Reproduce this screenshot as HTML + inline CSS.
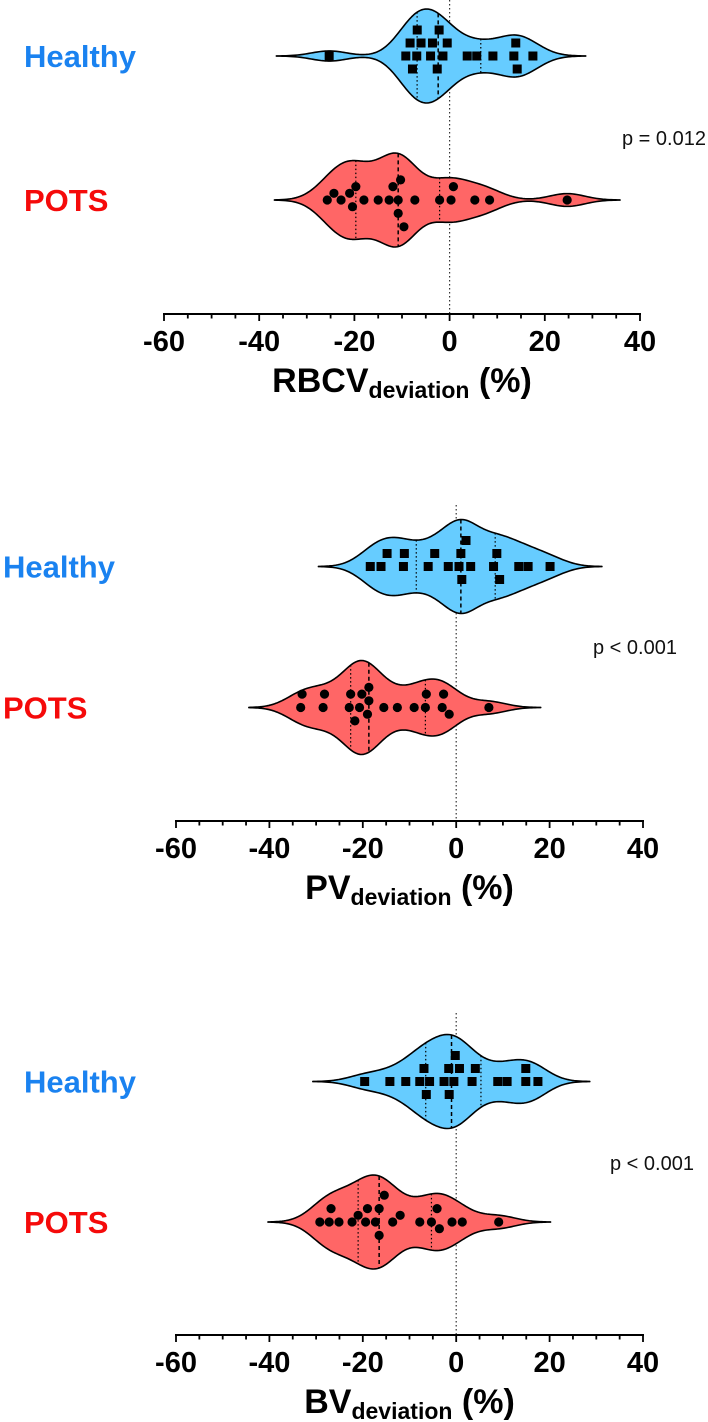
<!DOCTYPE html>
<html><head><meta charset="utf-8">
<style>
html,body{margin:0;padding:0;background:#fff;}
svg{display:block;}
text{font-family:"Liberation Sans",Arial,sans-serif;}
</style></head>
<body>
<svg id="chart" width="708" height="1422" viewBox="0 0 708 1422" xmlns="http://www.w3.org/2000/svg"></svg>
<script>
// ---- data (values in % deviation) ----
const rbcvHealthy = [-8.3,-6.8,-2.2,14.2,-25.3,-9.2,-6.9,-3.6,-1.4,3.7,5.7,9.1,13.5,17.5,-6.0,-4.0,-2.6,-0.5,13.9,-7.8];
const rbcvPots = [-9.6,-24.3,-21.0,-11.9,-10.3,0.3,-25.7,-18.0,-15.0,-7.3,-2.1,5.3,8.4,24.7,-22.8,-20.4,-12.7,-10.8,0.8,-19.7,-10.8];
const pvHealthy = [-14.8,1.2,9.3,-11.3,-18.4,-16.1,-6.0,-1.7,1.0,3.1,8.0,13.4,15.4,20.1,-11.1,-4.6,0.6,2.1,8.7];
const pvPots = [-22.6,-20.7,-18.7,-2.7,-33.0,-28.2,-6.4,-21.7,-20.2,-18.7,-15.5,-12.6,-9.0,7.0,-33.3,-28.5,-6.6,-22.9,-19.0,-3.0,-1.5];
const bvHealthy = [-6.4,-0.2,4.1,14.9,-19.6,-14.2,-10.8,-7.8,-5.7,-2.6,-1.5,-0.5,8.9,10.9,17.5,3.4,14.9,-6.9,-1.6,0.7];
const bvPots = [-21.0,-16.5,-4.1,-27.2,-19.0,-29.2,-25.1,-22.3,-17.3,-15.4,-13.6,-12.0,-7.8,-5.3,-3.6,-0.9,1.3,9.1,-26.8,-19.4,-16.5];
const tickLabels = [-60,-40,-20,0,20,40];
const pLabels = ["p = 0.012","p < 0.001","p < 0.001"];
const titleMain = ["RBCV","PV","BV"];

const panels = [
  {healthy:rbcvHealthy,pots:rbcvPots,axisY:314,xL:164,xR:640,hC:56,pC:200,labX:24,pX:622,pY:145,refTop:0,name:'rbcv'},
  {healthy:pvHealthy,pots:pvPots,axisY:821,xL:176,xR:643,hC:566.5,pC:707.5,labX:3,pX:593,pY:654,refTop:505,name:'pv'},
  {healthy:bvHealthy,pots:bvPots,axisY:1335,xL:176,xR:643,hC:1081.5,pC:1222,labX:24,pX:610,pY:1170,refTop:1013,name:'bv'}
];
const NS='http://www.w3.org/2000/svg';
const svg=document.getElementById('chart');
function mk(tag,attrs,parent){const e=document.createElementNS(NS,tag);for(const k in attrs)e.setAttribute(k,attrs[k]);(parent||svg).appendChild(e);return e;}
function quantile(arr,q){const s=[...arr].sort((a,b)=>a-b);const pos=(s.length-1)*q;const lo=Math.floor(pos),hi=Math.ceil(pos);return s[lo]+(s[hi]-s[lo])*(pos-lo);}
const H=3.7;
function kde(arr,x){let s=0;for(const v of arr){const z=(x-v)/H;s+=Math.exp(-0.5*z*z);}return s;}

panels.forEach((p,pi)=>{
  const g=mk('g',{});
  
  
  const xs=v=>p.xL+(v+60)/100*(p.xR-p.xL);
  const ref=mk('line',{x1:xs(0),x2:xs(0),y1:p.refTop,y2:p.axisY,stroke:'#333','stroke-width':1.2,'stroke-dasharray':'1.5,2.5'},g);
  
  
  const groups=[{vals:p.healthy,c:p.hC,fill:'#66ccff',shape:'square',nm:'healthy'},{vals:p.pots,c:p.pC,fill:'#ff6666',shape:'circle',nm:'pots'}];
  groups.forEach(gr=>{
    const mn=Math.min(...gr.vals)-3*H,mx=Math.max(...gr.vals)+3*H;
    const N=160;let pts=[];let maxd=0;
    for(let i=0;i<=N;i++){const v=mn+(mx-mn)*i/N;const d=kde(gr.vals,v);pts.push([v,d]);if(d>maxd)maxd=d;}
    const W=47;
    const wAt=v=>kde(gr.vals,v)/maxd*W;
    let dstr='M'+pts.map(q=>xs(q[0]).toFixed(2)+','+(gr.c-q[1]/maxd*W).toFixed(2)).join(' L');
    dstr+=' L'+pts.slice().reverse().map(q=>xs(q[0]).toFixed(2)+','+(gr.c+q[1]/maxd*W).toFixed(2)).join(' L')+' Z';
    const vio=mk('path',{d:dstr,fill:gr.fill,stroke:'#000','stroke-width':1.6,'stroke-linejoin':'round'},g);
    
    
    [[0.25,'1.5,2.5'],[0.5,'4,3'],[0.75,'1.5,2.5']].forEach(([q,da])=>{
      const v=quantile(gr.vals,q);const w=wAt(v);
      const ln=mk('line',{x1:xs(v),x2:xs(v),y1:gr.c-w,y2:gr.c+w,stroke:'#000','stroke-width':q===0.5?1.5:1.2,'stroke-dasharray':da},g);
      
      
    });
    const sorted=[...gr.vals].sort((a,b)=>a-b);
    const placed=[];const D=9;const step=gr.shape==='square'?13:6.7;
    sorted.forEach(v=>{
      const px=xs(v);let oy=0;
      for(let k=0;k<40;k++){
        const cand=k===0?0:(k%2?-1:1)*Math.ceil(k/2)*step;
        const ok=placed.every(q=>{
          const dx=q[0]-px,dy=q[1]-cand;
          return gr.shape==='square'?(Math.abs(dx)>=D||Math.abs(dy)>=D):(dx*dx+dy*dy>=D*D);
        });
        if(ok){oy=cand;break;}
      }
      placed.push([px,oy]);
      let m;
      if(gr.shape==='square'){m=mk('rect',{x:px-4.5,y:gr.c+oy-4.5,width:9,height:9,fill:'#000'},g);}
      else{m=mk('circle',{cx:px,cy:gr.c+oy,r:4.6,fill:'#000'},g);}
      
      
    });
  });
  const ax=mk('line',{x1:p.xL-1,x2:p.xR+1,y1:p.axisY,y2:p.axisY,stroke:'#000','stroke-width':2},g);
  
  
  for(let v=-60;v<=40;v+=5){
    const major=v%20===0;
    const t=mk('line',{x1:xs(v),x2:xs(v),y1:p.axisY,y2:p.axisY+(major?7:4.5),stroke:'#000','stroke-width':1.8},g);
    
    
  }
  tickLabels.forEach(v=>{
    const t=mk('text',{x:xs(v),y:p.axisY+37,'text-anchor':'middle','font-size':29,'font-weight':'bold',fill:'#000'},g);
    t.textContent=String(v);
    
    
  });
  const tt=mk('text',{x:(p.xL+p.xR)/2,y:p.axisY+78,'text-anchor':'middle','font-size':34,'font-weight':'bold',fill:'#000'},g);
  
  
  const s1=mk('tspan',{},tt);s1.textContent=titleMain[pi];
  const s2=mk('tspan',{'font-size':23,dy:6},tt);s2.textContent='deviation';
  const s3=mk('tspan',{dy:-6},tt);s3.textContent=' (%)';
  const lh=mk('text',{x:p.labX,y:p.hC+11,'font-size':31,'font-weight':'bold',fill:'#1a82f0'},g);
  lh.textContent='Healthy';
  
  
  const lp=mk('text',{x:p.labX,y:p.pC+11,'font-size':31,'font-weight':'bold',fill:'#f50a0a'},g);
  lp.textContent='POTS';
  
  
  const pv=mk('text',{x:p.pX,y:p.pY,'font-size':20,fill:'#111'},g);
  pv.textContent=pLabels[pi];
  
  
});
</script>
</body></html>
